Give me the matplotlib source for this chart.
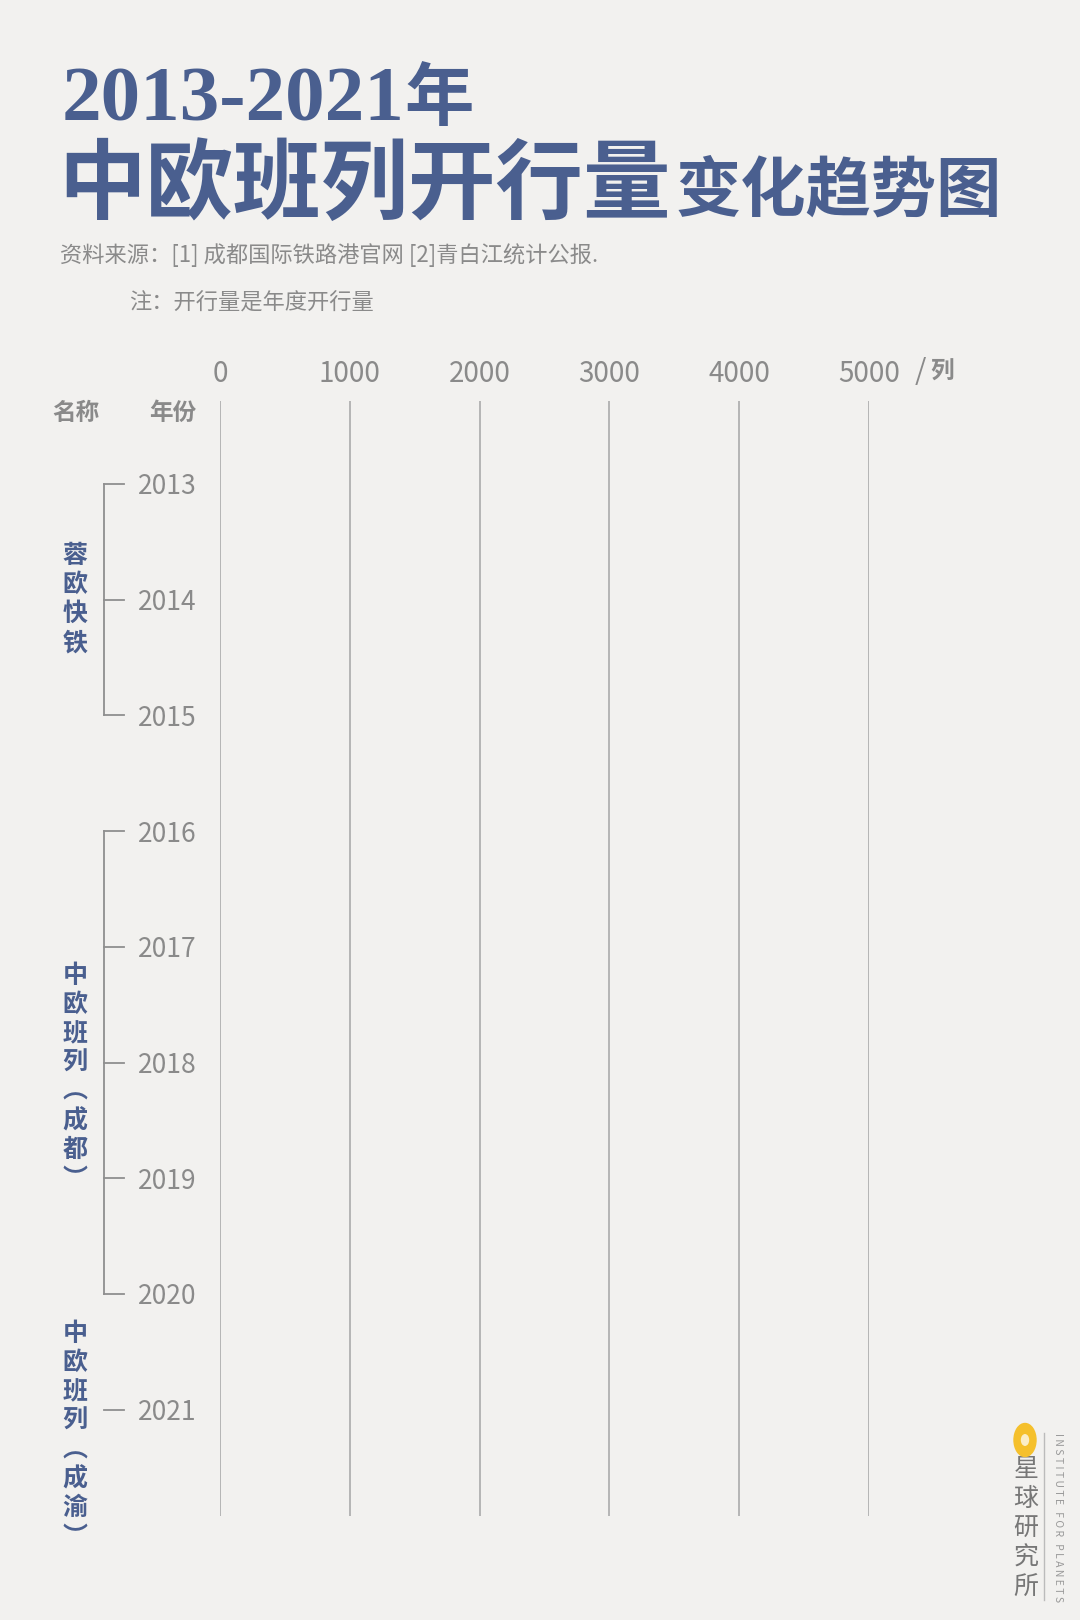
import matplotlib.pyplot as plt
from matplotlib.transforms import blended_transform_factory
from matplotlib.patches import Circle

# 数据
years = ["2013", "2014", "2015", "2016", "2017", "2018", "2019", "2020", "2021"]
xticks = [0, 1000, 2000, 3000, 4000, 5000]
groups = [
    ("蓉欧快铁", 0, 2),
    ("中欧班列︵成都︶", 3, 7),
    ("中欧班列︵成渝︶", 8, 8),
]
label_shift = [0, 15, 26]  # 竖排名称相对中心的像素偏移

W, H = 1080, 1620
bg = "#f2f1ef"
blue = "#4a5f8f"
gray = "#8a8a8a"
cjk = ["Noto Sans CJK SC", "DejaVu Sans"]
num = ["Liberation Sans Narrow", "Noto Sans CJK SC", "DejaVu Sans"]

fig = plt.figure(figsize=(W / 100, H / 100), dpi=100, facecolor=bg)


def px(x, y):
    return x / W, 1 - y / H


# 标题
fig.text(*px(62, 102), "2013-2021", family=["Liberation Serif", "Noto Sans CJK SC"],
         weight="bold", fontsize=57, color=blue, va="center", ha="left")
fig.text(*px(404, 100), "年", family=cjk, weight="bold", fontsize=50,
         color=blue, va="center", ha="left")
fig.text(*px(58, 187), "中欧班列开行量", family=cjk, weight="bold", fontsize=63,
         color=blue, va="center", ha="left")
fig.text(*px(676, 191), "变化趋势图", family=cjk, weight="bold", fontsize=47,
         color=blue, va="center", ha="left")
fig.text(*px(60, 255), "资料来源：[1] 成都国际铁路港官网 [2]青白江统计公报.", family=cjk,
         fontsize=16, color=gray, va="center", ha="left", weight="light")
fig.text(*px(129, 303), "注：开行量是年度开行量", family=cjk,
         fontsize=16, color=gray, va="center", ha="left", weight="light")

# 坐标轴
x0, x1 = 220, 869
top, bottom = 401, 1516
y_first, step = 484, 115.7
ax = fig.add_axes([x0 / W, 1 - bottom / H, (x1 - x0) / W, (bottom - top) / H])
ax.set_facecolor("none")
ax.set_xlim(0, 5000)
ax.set_ylim((bottom - y_first) / step, (top - y_first) / step)
for s in ax.spines.values():
    s.set_visible(False)
for v in xticks:
    ax.axvline(v, color="#a5a5a5", lw=1.1)
ax.xaxis.tick_top()
ax.set_xticks(xticks)
ax.set_xticklabels([str(v) for v in xticks], family=num, fontsize=20, color=gray)
ax.set_yticks(range(len(years)))
ax.set_yticklabels(years, family=num, fontsize=19, color=gray)
ax.tick_params(length=0)
ax.tick_params(axis="x", pad=9)
ax.tick_params(axis="y", pad=17)

fig.text(*px(915, 372), "/", family=num, fontsize=21, color=gray, va="center", ha="left")
fig.text(*px(930, 372), "列", family=cjk, fontsize=17, weight="bold", color=gray,
         va="center", ha="left")
fig.text(*px(52, 413), "名称", family=cjk, fontsize=17, weight="bold", color=gray,
         va="center", ha="left")
fig.text(*px(196, 413), "年份", family=cjk, fontsize=17, weight="bold", color=gray,
         va="center", ha="right")

# 分组括号
tr = blended_transform_factory(fig.transFigure, ax.transData)
bx, tx = 104 / W, 124 / W
for (name, a, b), dy in zip(groups, label_shift):
    if b > a:
        ax.plot([bx, bx], [a, b], transform=tr, color="#8f8f8f", lw=1.3, clip_on=False)
    for i in range(a, b + 1):
        ax.plot([bx, tx], [i, i], transform=tr, color="#8f8f8f", lw=1.3, clip_on=False)
    yc = y_first + step * (a + b) / 2 + dy
    n = len(name)
    for k, ch in enumerate(name):
        yy = yc + (k - (n - 1) / 2) * 29
        fig.text(*px(75, yy), ch, family=cjk, fontsize=18, weight="bold", color=blue,
                 va="center", ha="center")

# 水印
fig.patches.append(Circle(px(1025, 1440), 11 / W, transform=fig.transFigure,
                          color="#f5c02c", zorder=5))
fig.patches.append(Circle(px(1025, 1440), 3.5 / W, transform=fig.transFigure,
                          color="#fbeec8", zorder=6))
for k, ch in enumerate("星球研究所"):
    fig.text(*px(1026, 1469 + k * 29.5), ch, family=cjk, fontsize=18, color="#777777",
             va="center", ha="center")
fig.add_artist(plt.Line2D([1044 / W, 1044 / W], [1 - 1433 / H, 1 - 1600 / H],
                          transform=fig.transFigure, color="#bbbbbb", lw=1))
fig.text(*px(1058, 1518), "I N S T I T U T E   F O R   P L A N E T S", family=cjk,
         fontsize=7.5, color="#999999", rotation=270, va="center", ha="center")

fig.savefig("out.png", dpi=100, facecolor=bg)
